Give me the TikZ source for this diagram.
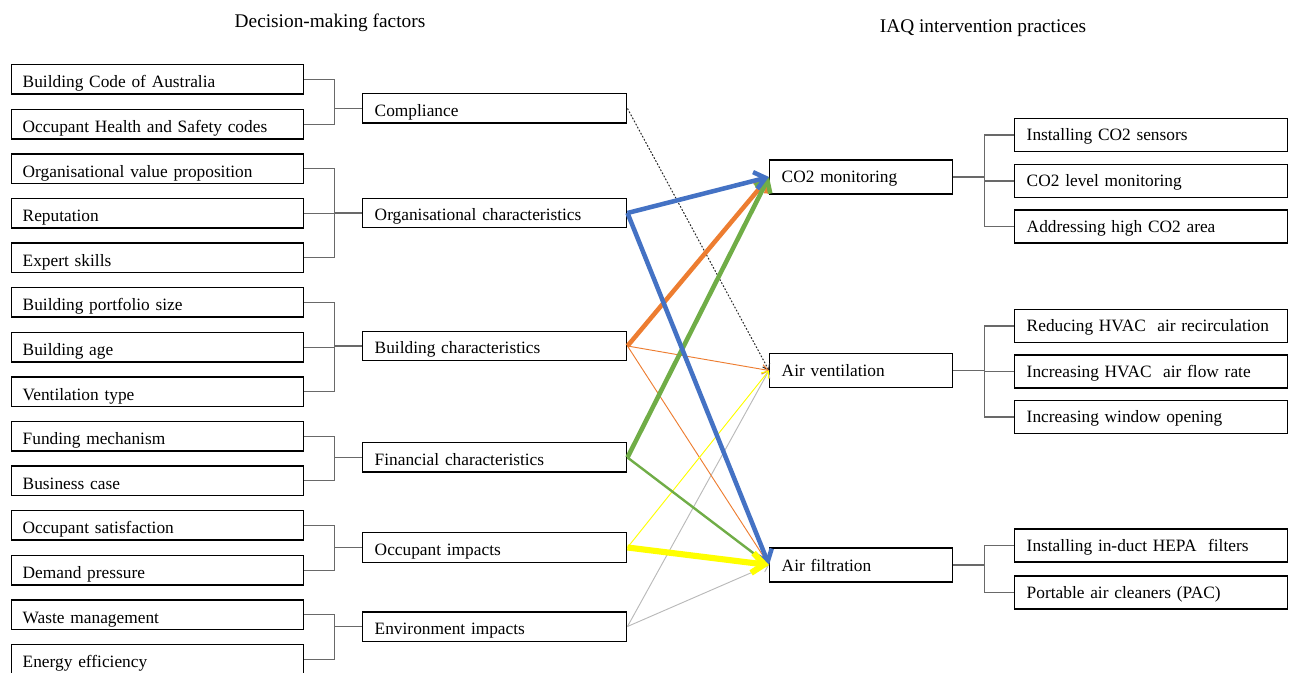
\documentclass[tikz,border=0pt]{standalone}
\usepackage{fontspec}
\setmainfont{Liberation Serif}
\usetikzlibrary{arrows.meta}
\definecolor{cblue}{RGB}{68,114,196}
\definecolor{corange}{RGB}{237,125,49}
\definecolor{cgreen}{RGB}{112,173,71}
\definecolor{cyellow}{RGB}{255,255,0}
\definecolor{cgray}{RGB}{185,185,185}
\definecolor{linkgray}{RGB}{105,105,105}
\begin{document}
\begin{tikzpicture}[x=0.75pt,y=-0.75pt,
  box/.style={draw=black,line width=1.1pt,inner ysep=0pt,anchor=west,align=left,
    font=\fontsize{13}{15}\selectfont,text depth=0pt},
  factor/.style={box,inner xsep=8.25pt,text width=202.5pt,minimum height=22.1pt,text height=12.5pt},
  group/.style={box,inner xsep=9pt,text width=180pt,minimum height=22.1pt,text height=11.5pt},
  practice/.style={box,inner xsep=9pt,text width=119.25pt,minimum height=25.5pt,text height=9pt},
  action/.style={box,inner xsep=9pt,text width=186.75pt,minimum height=24.75pt,text height=9pt},
  title/.style={font=\fontsize{14.5}{17}\selectfont,inner sep=0pt},
  link/.style={draw=linkgray,line width=0.8pt},
  strong/.style={line width=3.4pt,-{Straight Barb[length=8pt,width=13pt]}},
  medium/.style={line width=1.8pt,-{Straight Barb[length=6pt,width=10pt]}},
  weak/.style={line width=0.7pt,-{Straight Barb[length=4.5pt,width=7pt]}}
]
\useasboundingbox (0,0) rectangle (1293,673);

% column titles
\node[title] (t1) at (330,23) {Decision-making factors};
\node[title] (t2) at (983,28.5) {IAQ intervention practices};

% decision-making factors
\node[factor] (f0)  at (11,79.5)  {Building Code of Australia};
\node[factor] (f1)  at (11,124.1) {Occupant Health and Safety codes};
\node[factor] (f2)  at (11,168.7) {Organisational value proposition};
\node[factor] (f3)  at (11,213.3) {Reputation};
\node[factor] (f4)  at (11,257.9) {Expert skills};
\node[factor] (f5)  at (11,302.5) {Building portfolio size};
\node[factor] (f6)  at (11,347.1) {Building age};
\node[factor] (f7)  at (11,391.7) {Ventilation type};
\node[factor] (f8)  at (11,436.3) {Funding mechanism};
\node[factor] (f9)  at (11,480.9) {Business case};
\node[factor] (f10) at (11,525.5) {Occupant satisfaction};
\node[factor] (f11) at (11,570.1) {Demand pressure};
\node[factor] (f12) at (11,614.7) {Waste management};
\node[factor] (f13) at (11,659.3) {Energy efficiency};

% factor groups
\node[group] (comp) at (362,108.5) {Compliance};
\node[group] (org)  at (362,213)   {Organisational characteristics};
\node[group] (bld)  at (362,346)   {Building characteristics};
\node[group] (fin)  at (362,457.5) {Financial characteristics};
\node[group] (occ)  at (362,547.5) {Occupant impacts};
\node[group] (env)  at (362,626.5) {Environment impacts};

% bracket links factor -> group
\foreach \f/\g in {f0/comp,f1/comp,f2/org,f3/org,f4/org,f5/bld,f6/bld,f7/bld,
                   f8/fin,f9/fin,f10/occ,f11/occ,f12/env,f13/env}
  \draw[link] (\f.east) -- ++(30,0) |- (\g.west);

% intervention practices
\node[practice] (co2)  at (769,177)   {CO2 monitoring};
\node[practice] (vent) at (769,370.5) {Air ventilation};
\node[practice] (filt) at (769,565)   {Air filtration};

\node[action] (a1) at (1014,135)   {Installing CO2 sensors};
\node[action] (a2) at (1014,181)   {CO2 level monitoring};
\node[action] (a3) at (1014,226.5) {Addressing high CO2 area};
\node[action] (a4) at (1014,326)   {Reducing HVAC\ \ air recirculation};
\node[action] (a5) at (1014,371.5) {Increasing HVAC\ \ air flow rate};
\node[action] (a6) at (1014,417)   {Increasing window opening};
\node[action] (a7) at (1014,545.5) {Installing in-duct HEPA\ \ filters};
\node[action] (a8) at (1014,592.5) {Portable air cleaners (PAC)};

% bracket links practice -> action
\foreach \p/\a in {co2/a1,co2/a2,co2/a3,vent/a4,vent/a5,vent/a6,filt/a7,filt/a8}
  \draw[link] (\p.east) -- ++(31,0) |- (\a.west);

% influence arrows
\draw[black!85,line width=0.75pt,dash pattern=on 1.3pt off 1.3pt,
      -{Straight Barb[length=4pt,width=6pt]}] (comp.east) -- (vent.west);
\draw[cgray,weak] (env.east) -- (vent.west);
\draw[cgray,weak] (env.east) -- (filt.west);
\draw[corange,weak] (bld.east) -- (vent.west);
\draw[corange,weak] (bld.east) -- (filt.west);
\draw[cyellow,weak] (occ.east) -- (vent.west);
\draw[corange,strong] (bld.east) -- (co2.west);
\draw[cgreen,medium] (fin.east) -- (filt.west);
\draw[cgreen,strong] (fin.east) -- (co2.west);
\draw[cblue,strong] (org.east) -- (co2.west);
\draw[cblue,strong] (org.east) -- (filt.west);
\draw[cyellow,line width=4.6pt,-{Straight Barb[length=9pt,width=15pt]}] (occ.east) -- (filt.west);
\end{tikzpicture}
\end{document}
